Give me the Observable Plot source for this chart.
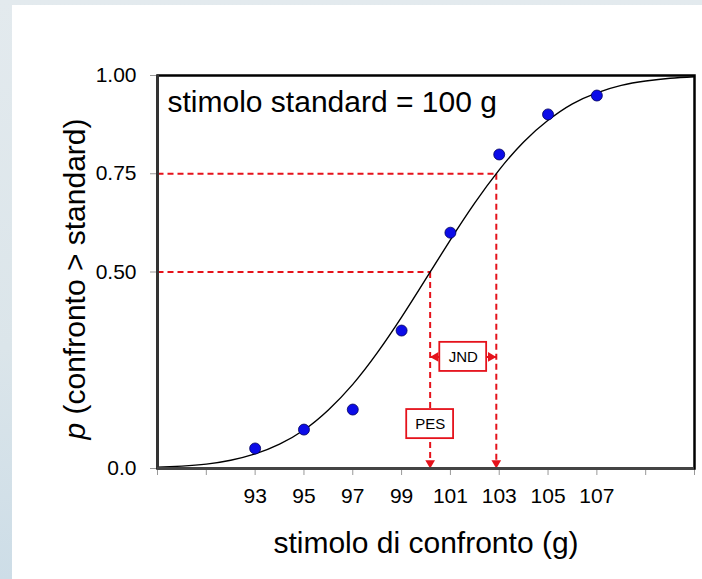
<!DOCTYPE html>
<html><head><meta charset="utf-8">
<script src="https://cdn.jsdelivr.net/npm/d3@7"></script>
<script src="https://cdn.jsdelivr.net/npm/@observablehq/plot@0.6"></script>
<style>
html,body{margin:0;padding:0;width:702px;height:579px;overflow:hidden;}
body{position:relative;font-family:"Liberation Sans",Arial,sans-serif;
 background:linear-gradient(180deg,#e3eaee 0px,#dbe5ea 60%,#cddde7 100%);}
#panel{position:absolute;left:12px;top:5px;right:0;bottom:0;background:#fff;}
#chart{position:absolute;left:0;top:0;}
</style></head><body><div id="panel"></div><div id="chart"></div>
<script>
// ---- data ----
const stimoli = [93, 95, 97, 99, 101, 103, 105, 107];
const proporzioni = [0.051, 0.099, 0.150, 0.351, 0.600, 0.799, 0.901, 0.949];
// fitted psychometric curve, read at each gram
const curvaX = [89,90,91,92,93,94,95,96,97,98,99,100,101,102,103,104,105,106,107,108,109,110,111];
const curvaP = [0.003,0.006,0.011,0.021,0.037,0.062,0.098,0.149,0.214,0.294,0.385,0.483,0.582,0.676,0.760,0.831,0.886,0.928,0.956,0.975,0.986,0.993,0.997];
const PES = 100.17;       // stimulus at p = 0.50
const X75 = 102.88;       // stimulus at p = 0.75
const livelli = [0.50, 0.75];
const etichette = ["PES", "JND"];
const etichetteP = [0.113, 0.284];
const tickX = [89,91,93,95,97,99,101,103,105,107,109,111];
const labelX = [93,95,97,99,101,103,105,107];
const tickY = [0, 0.5, 0.75, 1];
const tickYLabels = ["0.0", "0.50", "0.75", "1.00"];
const titolo = "stimolo standard = 100 g";
const xTitolo = "stimolo di confronto (g)";

// ---- tables ----
const punti = stimoli.map((x, i) => ({x, p: proporzioni[i]}));
const curva = curvaX.map((x, i) => ({x, p: curvaP[i]}));
const soglie = [PES, X75].map((x, i) => ({x, p: livelli[i]}));
const boxes = [
  {label: etichette[0], x: PES, p: etichetteP[0]},
  {label: etichette[1], x: (PES + X75) / 2, p: etichetteP[1]}
];
const jnd = {p: etichetteP[1]};
const RED = "#e5121b";
const font = "Liberation Sans, Arial, sans-serif";

const chart = Plot.plot({
  width: 702, height: 579,
  marginLeft: 157, marginRight: 8, marginTop: 75, marginBottom: 111,
  style: {background: "transparent", fontFamily: font, overflow: "visible"},
  x: {domain: [89, 111]},
  y: {domain: [0, 1]},
  marks: [
    // dashed guides
    Plot.link(soglie, {x1: () => 89, x2: "x", y1: "p", y2: "p", stroke: RED, strokeWidth: 2, strokeDasharray: "6,4"}),
    Plot.link(soglie, {x1: "x", x2: "x", y1: "p", y2: () => 0.022, stroke: RED, strokeWidth: 2, strokeDasharray: "6,4"}),
    Plot.dot(soglie, {x: "x", y: () => 0, symbol: "triangle", rotate: 180, r: 3.6, dy: -5.5, fill: RED, stroke: "none"}),
    // JND arrow
    Plot.link([jnd], {x1: () => PES, x2: () => X75, y1: "p", y2: "p", stroke: RED, strokeWidth: 2}),
    Plot.dot([jnd], {x: () => PES, y: "p", symbol: "triangle", rotate: -90, r: 3.6, dx: 5.5, fill: RED, stroke: "none"}),
    Plot.dot([jnd], {x: () => X75, y: "p", symbol: "triangle", rotate: 90, r: 3.6, dx: -5.5, fill: RED, stroke: "none"}),
    // curve and data
    Plot.line(curva, {x: "x", y: "p", curve: "natural", stroke: "black", strokeWidth: 1.4}),
    Plot.dot(punti, {x: "x", y: "p", r: 5.5, fill: "#0c0ce8", stroke: "#00005a", strokeWidth: 0.8}),
    // label boxes
    Plot.rect(boxes, {x1: d => d.x - 0.96, x2: d => d.x + 0.96, y1: d => d.p - 0.037, y2: d => d.p + 0.037, fill: "white", stroke: RED, strokeWidth: 1.8}),
    Plot.text(boxes, {x: "x", y: "p", text: "label", fontSize: 15, fill: "black"}),
    // title inside
    Plot.text([titolo], {frameAnchor: "top-left", dx: 10, dy: 15, lineAnchor: "top", fontSize: 30, fill: "black"}),
    // axes
    Plot.axisY({ticks: tickY, tickFormat: d => tickYLabels[tickY.indexOf(d)], tickSize: 7, tickPadding: 14, fontSize: 21, stroke: "#999", fill: "black", label: null}),
    Plot.axisX({ticks: tickX, tickFormat: () => "", tickSize: 7, stroke: "#999", label: null}),
    Plot.axisX({ticks: labelX, tickSize: 0, tickPadding: 20, fontSize: 21, fill: "black", label: null}),
    Plot.text([xTitolo], {frameAnchor: "bottom", dy: 84, fontSize: 30, fill: "black"}),
    // frame
    Plot.frame({stroke: "black", strokeWidth: 2.5}),
    Plot.ruleX([89], {stroke: "#333", strokeWidth: 3}),
    Plot.ruleY([0], {stroke: "#444", strokeWidth: 3})
  ]
});
document.getElementById("chart").appendChild(chart);

// y-axis title with italic p
const svg = d3.select(chart);
const t = svg.append("text")
  .attr("transform", "translate(85,279) rotate(-90)")
  .attr("text-anchor", "middle")
  .attr("font-family", font)
  .attr("font-size", 30)
  .attr("fill", "black");
t.append("tspan").attr("font-style", "italic").text("p");
t.append("tspan").text(" (confronto > standard)");
</script></body></html>
